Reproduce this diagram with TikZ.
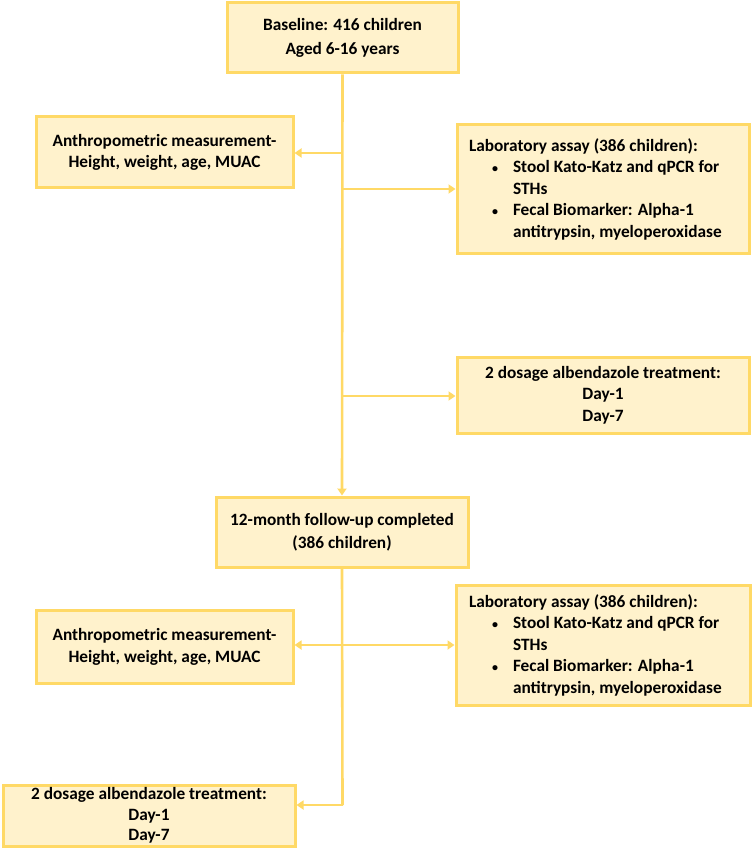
\documentclass[tikz,border=0pt]{standalone}
\usepackage{fontspec}
\setmainfont{Carlito}
\usetikzlibrary{arrows.meta}
\definecolor{boxfill}{HTML}{FFF2CC}
\definecolor{boxline}{HTML}{FFD966}
\newcommand\bulitem[1]{\makebox[44pt][l]{\hspace*{23pt}{\fontsize{12}{12}\selectfont\textbullet}}#1}
\newcommand\bulcont[1]{\hspace*{44pt}#1}
\begin{document}
\begin{tikzpicture}[x=1pt,y=-1pt,
  box/.style={draw=boxline,fill=boxfill,line width=3pt,inner sep=0pt,
    font=\fontsize{17.3}{21.5}\selectfont\bfseries,align=center},
  wide/.style={font=\fontsize{17.3}{23.5}\selectfont\bfseries},
  conn/.style={draw=boxline,line width=2.6pt},
  arr/.style={conn,-{Triangle[length=7pt,width=9pt]}}]
\useasboundingbox (0,0) rectangle (752,850);
\node[box,wide,minimum width=231pt,minimum height=70pt] (base) at (342.5,38) {Baseline: 416 children\\Aged 6-16 years};
\node[box,minimum width=257pt,minimum height=71pt] (anth1) at (164.5,152.5) {Anthropometric measurement-\\Height, weight, age, MUAC};
\node[box,minimum width=292pt,minimum height=128pt,align=flush left,text width=268pt] (lab1) at (603,189) {Laboratory assay (386 children):\\\bulitem{Stool Kato-Katz and qPCR for}\\\bulcont{STHs}\\\bulitem{Fecal Biomarker: Alpha-1}\\\bulcont{antitrypsin, myeloperoxidase}};
\node[box,minimum width=292pt,minimum height=76pt] (dose1) at (603,395) {2 dosage albendazole treatment:\\Day-1\\Day-7};
\node[box,wide,minimum width=252pt,minimum height=70pt] (fol) at (342,532) {12-month follow-up completed\\(386 children)};
\node[box,minimum width=257pt,minimum height=73pt] (anth2) at (164.5,647) {Anthropometric measurement-\\Height, weight, age, MUAC};
\node[box,minimum width=294pt,minimum height=120pt,align=flush left,text width=268pt] (lab2) at (603,645) {Laboratory assay (386 children):\\\bulitem{Stool Kato-Katz and qPCR for}\\\bulcont{STHs}\\\bulitem{Fecal Biomarker: Alpha-1}\\\bulcont{antitrypsin, myeloperoxidase}};
\node[box,font=\fontsize{17.3}{20.5}\selectfont\bfseries,minimum width=292pt,minimum height=61pt] (dose2) at (149,815.5) {2 dosage albendazole treatment:\\Day-1\\Day-7};
\coordinate (t) at (base.south);
\coordinate (c1) at (t |- 0,153);
\coordinate (c2) at (t |- 0,189);
\coordinate (c3) at (t |- 0,396);
\coordinate (d1) at (t |- 0,645);
\coordinate (d2) at (t |- 0,805);
\draw[arr] (base.south) -- (fol.north);
\draw[arr] (c1) -- (c1 -| anth1.east);
\draw[arr] (c2) -- (c2 -| lab1.west);
\draw[arr] (c3) -- (c3 -| dose1.west);
\draw[conn] (fol.south) -- (d2);
\draw[arr] (d2) -- (d2 -| dose2.east);
\draw[arr] (d1) -- (d1 -| anth2.east);
\draw[arr] (d1) -- (d1 -| lab2.west);
\end{tikzpicture}
\end{document}
